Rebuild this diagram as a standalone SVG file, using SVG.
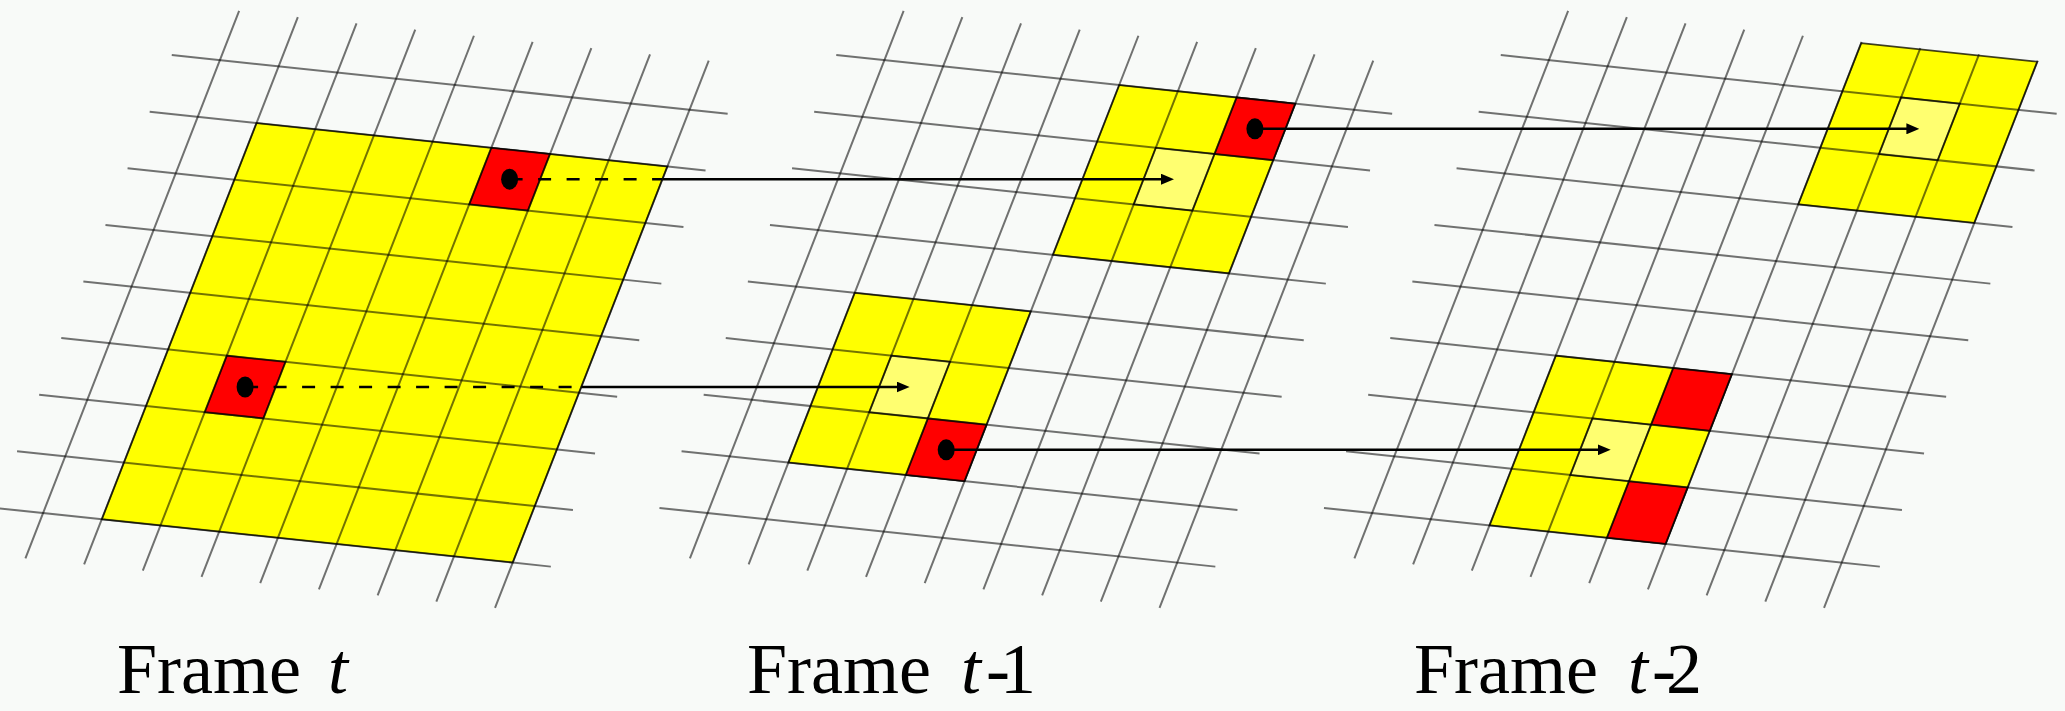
<svg xmlns="http://www.w3.org/2000/svg" xmlns:xlink="http://www.w3.org/1999/xlink" width="2065" height="711" viewBox="0 0 2065 711">
<style>
.grid path{fill:none;stroke:#000;stroke-opacity:0.55;stroke-width:2;vector-effect:non-scaling-stroke}
.cell{stroke:#000;stroke-opacity:0.75;stroke-width:1.6;vector-effect:non-scaling-stroke}
.y{fill:#ffff00}
.r{fill:#ff0000}
.ly{fill:#ffff70}
.arr{fill:none;stroke:#000;stroke-width:2.5}
.dash{stroke-dasharray:13 15.5}
.dot{fill:#000}
.lbl{font-family:"Liberation Serif","Times New Roman",serif;font-size:72px;fill:#000}
</style>
<defs>
<g id="grid" class="grid">
<path d="M-1.82,-1H7.65M-1.82,0H7.65M-1.82,1H7.65M-1.82,2H7.65M-1.82,3H7.65M-1.82,4H7.65M-1.82,5H7.65M-1.82,6H7.65M-1.82,7H7.65"/>
<path d="M-1,-1.87V7.8M0,-1.87V7.8M1,-1.87V7.8M2,-1.87V7.8M3,-1.87V7.8M4,-1.87V7.8M5,-1.87V7.8M6,-1.87V7.8M7,-1.87V7.8"/>
</g>
<marker id="ah" markerUnits="userSpaceOnUse" viewBox="0 0 13 11" refX="5" refY="5.5" markerWidth="13" markerHeight="11" orient="auto">
<path d="M0,0L13,5.5L0,11z" fill="#000"/>
</marker>
</defs>
<rect width="2065" height="711" fill="#f8faf8"/>

<g id="frame-t" transform="matrix(58.7 6.2 -22.1 56.6 256.5 123)">
<rect class="cell y" x="0" y="0" width="7" height="7"/>
<rect class="cell r" x="4" y="0" width="1" height="1"/>
<rect class="cell r" x="1" y="4" width="1" height="1"/>
<use href="#grid" xlink:href="#grid"/>
</g>

<g id="frame-t1" transform="matrix(58.7 6.2 -22.1 56.6 921 123)">
<rect class="cell y" x="3" y="-1" width="3" height="3"/>
<rect class="cell ly" x="4" y="0" width="1" height="1"/>
<rect class="cell r" x="5" y="-1" width="1" height="1"/>
<rect class="cell y" x="0" y="3" width="3" height="3"/>
<rect class="cell ly" x="1" y="4" width="1" height="1"/>
<rect class="cell r" x="2" y="5" width="1" height="1"/>
<use href="#grid" xlink:href="#grid"/>
</g>

<g id="frame-t2" transform="matrix(58.7 6.2 -22.1 56.6 1585.5 123)">
<rect class="cell y" x="4" y="-1.85" width="3" height="2.85"/>
<rect class="cell ly" x="5" y="-1" width="1" height="1"/>
<rect class="cell y" x="1" y="4" width="3" height="3"/>
<rect class="cell ly" x="2" y="5" width="1" height="1"/>
<rect class="cell r" x="3" y="4" width="1" height="1"/>
<rect class="cell r" x="3" y="6" width="1" height="1"/>
<use href="#grid" xlink:href="#grid"/>
</g>

<g id="connectors">
<path class="arr dash" d="M509.6,179.2H662.5"/>
<path class="arr" d="M662.5,179.2H1166" marker-end="url(#ah)"/>
<path class="arr dash" d="M245.1,387H581.3"/>
<path class="arr" d="M581.3,387H901.6" marker-end="url(#ah)"/>
<path class="arr" d="M1254.9,128.8H1911.4" marker-end="url(#ah)"/>
<path class="arr" d="M946.2,449.8H1602.7" marker-end="url(#ah)"/>
<ellipse class="dot" cx="509.6" cy="179.2" rx="8.5" ry="10.5"/>
<ellipse class="dot" cx="245.1" cy="387" rx="8.5" ry="10.5"/>
<ellipse class="dot" cx="1254.9" cy="128.8" rx="8.5" ry="10.5"/>
<ellipse class="dot" cx="946.2" cy="449.8" rx="8.5" ry="10.5"/>
</g>

<g id="labels">
<text class="lbl" x="117" y="693">Frame<tspan x="328" font-style="italic">t</tspan></text>
<text class="lbl" x="747" y="693">Frame<tspan x="961" font-style="italic">t</tspan><tspan x="986" letter-spacing="-10">-1</tspan></text>
<text class="lbl" x="1414" y="693">Frame<tspan x="1628" font-style="italic">t</tspan><tspan x="1652" letter-spacing="-10">-2</tspan></text>
</g>
</svg>
